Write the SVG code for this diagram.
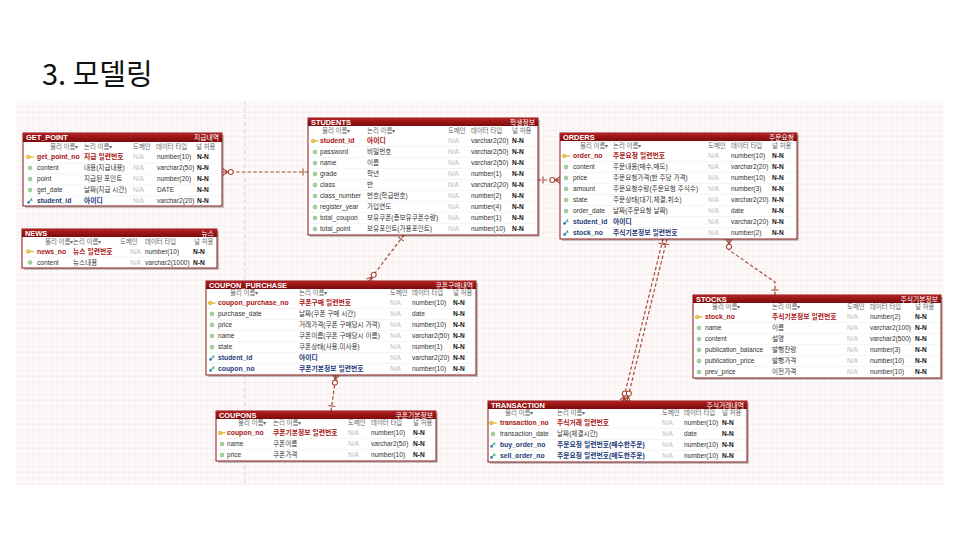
<svg xmlns="http://www.w3.org/2000/svg" xmlns:xlink="http://www.w3.org/1999/xlink" width="960" height="540" viewBox="0 0 960 540">
<style>
text{font-family:"Liberation Sans","Noto Sans CJK KR",sans-serif;}
.ttl{font-family:"Noto Sans CJK KR","Noto Sans",sans-serif;font-size:29px;fill:#111;}
.shd{fill:#000;opacity:.22;}
.box{fill:#fff;stroke:#8a1616;stroke-width:1;}
.hd{fill:url(#hg);}
.tt{font-size:7.4px;font-weight:bold;fill:#fff;}
.tr{font-size:6.8px;fill:#fff;text-anchor:end;}
.ch{font-size:6.4px;fill:#666;}
.c{font-size:6.6px;fill:#333;}
.pk{font-size:6.8px;font-weight:bold;fill:#a81414;}
.fk{font-size:6.8px;font-weight:bold;fill:#1d3a78;}
.na{font-size:6.6px;fill:#bbb;}
.nn{font-size:6.6px;font-weight:bold;fill:#111;}
.sep{stroke:#eee;stroke-width:.6;}
.rel{fill:none;stroke:#a84a36;stroke-width:1.2;stroke-dasharray:3.5 2.2;}
.mk{fill:none;stroke:#a84a36;stroke-width:1.1;stroke-dasharray:none;}
.mkc{fill:#fff;stroke:#a84a36;stroke-width:1.1;stroke-dasharray:none;}
.pb{stroke:#d8c8c8;stroke-width:.8;stroke-dasharray:4 3;}
</style>
<defs>
<pattern id="grid" width="6" height="6" patternUnits="userSpaceOnUse" x="16" y="101">
<rect width="6" height="6" fill="#fdf9f9"/>
<path d="M6 0V6M0 6H6" fill="none" stroke="#efdede" stroke-width=".6"/>
</pattern>
<linearGradient id="hg" x1="0" y1="0" x2="0" y2="1">
<stop offset="0" stop-color="#b42222"/>
<stop offset="1" stop-color="#7c0a0a"/>
</linearGradient>
<g id="ipk"><circle cx="-1.8" cy="0" r="1.8" fill="#f2cc48" stroke="#b48c14" stroke-width=".5"/><rect x="-0.4" y="-0.7" width="4" height="1.4" fill="#e2b830"/></g>
<g id="iat"><circle r="1.9" fill="#a8d6a0" stroke="#72a468" stroke-width=".5"/></g>
<g id="ifk"><circle cx="-1.4" cy="1.4" r="1.4" fill="#3d7cb4"/><path d="M-1 1 L2 -2.6 M1 -1.4 L2.4 -0.4" stroke="#3aa088" stroke-width="1.1" fill="none"/></g>
<marker id="one" markerUnits="userSpaceOnUse" markerWidth="20" markerHeight="20" refX="0" refY="10" orient="auto" overflow="visible">
<path class="mk" d="M5 6.5V13.5"/>
</marker>
<marker id="zm" markerUnits="userSpaceOnUse" markerWidth="20" markerHeight="20" refX="12" refY="10" orient="auto" overflow="visible">
<path class="mk" d="M7 10L12 6.8M7 10L12 10M7 10L12 13.2"/>
<circle class="mkc" cx="4.3" cy="10" r="2.5"/>
</marker>
</defs>
<rect width="960" height="540" fill="#fff"/>
<text class="ttl" x="42" y="85">3. 모델링</text>
<rect x="16" y="101" width="928" height="384" fill="url(#grid)"/>
<path class="pb" d="M245 101V485"/>

<g id="connectors">
<path class="rel" d="M308 172H223" marker-start="url(#one)" marker-end="url(#zm)"/>
<path class="rel" d="M538 180H560" marker-start="url(#one)" marker-end="url(#zm)"/>
<path class="rel" d="M404 235L369 281" marker-start="url(#one)" marker-end="url(#zm)"/>
<path class="rel" d="M331 411L336 375" marker-start="url(#one)" marker-end="url(#zm)"/>
<path class="rel" d="M663 239L623 401" marker-start="url(#one)" marker-end="url(#zm)"/>
<path class="rel" d="M667 239L627 401" marker-start="url(#one)" marker-end="url(#zm)"/>
<path class="rel" d="M775 295V282L729 250V239" marker-start="url(#one)" marker-end="url(#zm)"/>
</g>

<g id="get_point">
<rect class="shd" x="25" y="135" width="199" height="73"/>
<rect class="box" x="23" y="133" width="199" height="73"/>
<rect class="hd" x="23" y="133" width="199" height="9"/>
<text class="tt" x="26" y="139.8">GET_POINT</text>
<text class="tr" x="219" y="139.8">지급내역</text>
<text class="ch" x="50" y="148.8">물리 이름▾</text><text class="ch" x="84" y="148.8">논리 이름▾</text><text class="ch" x="133" y="148.8">도메인</text><text class="ch" x="156" y="148.8">데이터 타입</text><text class="ch" x="196" y="148.8">널 허용</text>
<path class="sep" d="M24 163H221M24 174H221M24 185H221M24 196H221"/>
<use href="#ipk" x="30" y="157"/><text class="pk" x="37" y="159.3">get_point_no</text><text class="pk" x="84" y="159.3">지급 일련번호</text><text class="na" x="133" y="159.3">N/A</text><text class="c" x="157" y="159.3">number(10)</text><text class="nn" x="197" y="159.3">N-N</text>
<use href="#iat" x="30" y="168"/><text class="c" x="37" y="170.3">content</text><text class="c" x="84" y="170.3">내용(지급내용)</text><text class="na" x="133" y="170.3">N/A</text><text class="c" x="157" y="170.3">varchar2(50)</text><text class="nn" x="197" y="170.3">N-N</text>
<use href="#iat" x="30" y="179"/><text class="c" x="37" y="181.3">point</text><text class="c" x="84" y="181.3">지급된 포인트</text><text class="na" x="133" y="181.3">N/A</text><text class="c" x="157" y="181.3">number(20)</text><text class="nn" x="197" y="181.3">N-N</text>
<use href="#iat" x="30" y="190"/><text class="c" x="37" y="192.3">get_date</text><text class="c" x="84" y="192.3">날짜(지급 시간)</text><text class="na" x="133" y="192.3">N/A</text><text class="c" x="157" y="192.3">DATE</text><text class="nn" x="197" y="192.3">N-N</text>
<use href="#ifk" x="30" y="201"/><text class="fk" x="37" y="203.3">student_id</text><text class="fk" x="84" y="203.3">아이디</text><text class="na" x="133" y="203.3">N/A</text><text class="c" x="157" y="203.3">varchar2(20)</text><text class="nn" x="197" y="203.3">N-N</text>
</g>

<g id="news">
<rect class="shd" x="24" y="231" width="195" height="39"/>
<rect class="box" x="22" y="229" width="195" height="39"/>
<rect class="hd" x="22" y="229" width="195" height="8"/>
<text class="tt" x="25" y="235.5">NEWS</text>
<text class="tr" x="214" y="235.5">뉴스</text>
<text class="ch" x="45" y="243.5">물리 이름▾</text><text class="ch" x="73" y="243.5">논리 이름▾</text><text class="ch" x="120" y="243.5">도메인</text><text class="ch" x="145" y="243.5">데이터 타입</text><text class="ch" x="194" y="243.5">널 허용</text>
<path class="sep" d="M23 257H216"/>
<use href="#ipk" x="30" y="251.5"/><text class="pk" x="37" y="253.8">news_no</text><text class="pk" x="73" y="253.8">뉴스 일련번호</text><text class="na" x="130" y="253.8">N/A</text><text class="c" x="145" y="253.8">number(10)</text><text class="nn" x="193" y="253.8">N-N</text>
<use href="#iat" x="30" y="262.5"/><text class="c" x="37" y="264.8">content</text><text class="c" x="73" y="264.8">뉴스내용</text><text class="na" x="130" y="264.8">N/A</text><text class="c" x="145" y="264.8">varchar2(1000)</text><text class="nn" x="193" y="264.8">N-N</text>
</g>

<g id="students">
<rect class="shd" x="310" y="120" width="230" height="117"/>
<rect class="box" x="308" y="118" width="230" height="117"/>
<rect class="hd" x="308" y="118" width="230" height="8"/>
<text class="tt" x="311" y="124.5">STUDENTS</text>
<text class="tr" x="535" y="124.5">학생정보</text>
<text class="ch" x="322" y="132.8">물리 이름▾</text><text class="ch" x="367" y="132.8">논리 이름▾</text><text class="ch" x="448" y="132.8">도메인</text><text class="ch" x="471" y="132.8">데이터 타입</text><text class="ch" x="512" y="132.8">널 허용</text>
<path class="sep" d="M309 146.5H537M309 157.5H537M309 168.5H537M309 179.5H537M309 190.5H537M309 201.5H537M309 212.5H537M309 223.5H537"/>
<use href="#ipk" x="315" y="141"/><text class="pk" x="320" y="143.3">student_id</text><text class="pk" x="367" y="143.3">아이디</text><text class="na" x="448" y="143.3">N/A</text><text class="c" x="471" y="143.3">varchar2(20)</text><text class="nn" x="512" y="143.3">N-N</text>
<use href="#iat" x="315" y="152"/><text class="c" x="320" y="154.3">password</text><text class="c" x="367" y="154.3">비밀번호</text><text class="na" x="448" y="154.3">N/A</text><text class="c" x="471" y="154.3">varchar2(50)</text><text class="nn" x="512" y="154.3">N-N</text>
<use href="#iat" x="315" y="163"/><text class="c" x="320" y="165.3">name</text><text class="c" x="367" y="165.3">이름</text><text class="na" x="448" y="165.3">N/A</text><text class="c" x="471" y="165.3">varchar2(50)</text><text class="nn" x="512" y="165.3">N-N</text>
<use href="#iat" x="315" y="174"/><text class="c" x="320" y="176.3">grade</text><text class="c" x="367" y="176.3">학년</text><text class="na" x="448" y="176.3">N/A</text><text class="c" x="471" y="176.3">number(1)</text><text class="nn" x="512" y="176.3">N-N</text>
<use href="#iat" x="315" y="185"/><text class="c" x="320" y="187.3">class</text><text class="c" x="367" y="187.3">반</text><text class="na" x="448" y="187.3">N/A</text><text class="c" x="471" y="187.3">varchar2(20)</text><text class="nn" x="512" y="187.3">N-N</text>
<use href="#iat" x="315" y="196"/><text class="c" x="320" y="198.3">class_number</text><text class="c" x="367" y="198.3">번호(학급번호)</text><text class="na" x="448" y="198.3">N/A</text><text class="c" x="471" y="198.3">number(2)</text><text class="nn" x="512" y="198.3">N-N</text>
<use href="#iat" x="315" y="207"/><text class="c" x="320" y="209.3">register_year</text><text class="c" x="367" y="209.3">가입연도</text><text class="na" x="448" y="209.3">N/A</text><text class="c" x="471" y="209.3">number(4)</text><text class="nn" x="512" y="209.3">N-N</text>
<use href="#iat" x="315" y="218"/><text class="c" x="320" y="220.3">total_coupon</text><text class="c" x="367" y="220.3">보유쿠폰(총보유쿠폰수량)</text><text class="na" x="448" y="220.3">N/A</text><text class="c" x="471" y="220.3">number(1)</text><text class="nn" x="512" y="220.3">N-N</text>
<use href="#iat" x="315" y="229"/><text class="c" x="320" y="231.3">total_point</text><text class="c" x="367" y="231.3">보유포인트(가용포인트)</text><text class="na" x="448" y="231.3">N/A</text><text class="c" x="471" y="231.3">number(10)</text><text class="nn" x="512" y="231.3">N-N</text>
</g>

<g id="orders">
<rect class="shd" x="562" y="135" width="237" height="106"/>
<rect class="box" x="560" y="133" width="237" height="106"/>
<rect class="hd" x="560" y="133" width="237" height="8"/>
<text class="tt" x="563" y="139.5">ORDERS</text>
<text class="tr" x="794" y="139.5">주문요청</text>
<text class="ch" x="580" y="147.8">물리 이름▾</text><text class="ch" x="613" y="147.8">논리 이름▾</text><text class="ch" x="708" y="147.8">도메인</text><text class="ch" x="731" y="147.8">데이터 타입</text><text class="ch" x="772" y="147.8">널 허용</text>
<path class="sep" d="M561 161.5H796M561 172.5H796M561 183.5H796M561 194.5H796M561 205.5H796M561 216.5H796M561 227.5H796"/>
<use href="#ipk" x="566" y="156"/><text class="pk" x="573" y="158.3">order_no</text><text class="pk" x="613" y="158.3">주문요청 일련번호</text><text class="na" x="708" y="158.3">N/A</text><text class="c" x="731" y="158.3">number(10)</text><text class="nn" x="772" y="158.3">N-N</text>
<use href="#iat" x="566" y="167"/><text class="c" x="573" y="169.3">content</text><text class="c" x="613" y="169.3">주문내용(매수,매도)</text><text class="na" x="708" y="169.3">N/A</text><text class="c" x="731" y="169.3">varchar2(20)</text><text class="nn" x="772" y="169.3">N-N</text>
<use href="#iat" x="566" y="178"/><text class="c" x="573" y="180.3">price</text><text class="c" x="613" y="180.3">주문요청가격(한 주당 가격)</text><text class="na" x="708" y="180.3">N/A</text><text class="c" x="731" y="180.3">number(10)</text><text class="nn" x="772" y="180.3">N-N</text>
<use href="#iat" x="566" y="189"/><text class="c" x="573" y="191.3">amount</text><text class="c" x="613" y="191.3">주문요청수량(주문요청 주식수)</text><text class="na" x="708" y="191.3">N/A</text><text class="c" x="731" y="191.3">number(3)</text><text class="nn" x="772" y="191.3">N-N</text>
<use href="#iat" x="566" y="200"/><text class="c" x="573" y="202.3">state</text><text class="c" x="613" y="202.3">주문상태(대기,체결,취소)</text><text class="na" x="708" y="202.3">N/A</text><text class="c" x="731" y="202.3">varchar2(20)</text><text class="nn" x="772" y="202.3">N-N</text>
<use href="#iat" x="566" y="211"/><text class="c" x="573" y="213.3">order_date</text><text class="c" x="613" y="213.3">날짜(주문요청 날짜)</text><text class="na" x="708" y="213.3">N/A</text><text class="c" x="731" y="213.3">date</text><text class="nn" x="772" y="213.3">N-N</text>
<use href="#ifk" x="566" y="222"/><text class="fk" x="573" y="224.3">student_id</text><text class="fk" x="613" y="224.3">아이디</text><text class="na" x="708" y="224.3">N/A</text><text class="c" x="731" y="224.3">varchar2(20)</text><text class="nn" x="772" y="224.3">N-N</text>
<use href="#ifk" x="566" y="233"/><text class="fk" x="573" y="235.3">stock_no</text><text class="fk" x="613" y="235.3">주식기본정보 일련번호</text><text class="na" x="708" y="235.3">N/A</text><text class="c" x="731" y="235.3">number(2)</text><text class="nn" x="772" y="235.3">N-N</text>
</g>

<g id="coupon_purchase">
<rect class="shd" x="208" y="283" width="270" height="94"/>
<rect class="box" x="206" y="281" width="270" height="94"/>
<rect class="hd" x="206" y="281" width="270" height="8"/>
<text class="tt" x="209" y="287.5">COUPON_PURCHASE</text>
<text class="tr" x="473" y="287.5">쿠폰구매내역</text>
<text class="ch" x="230" y="295.2">물리 이름▾</text><text class="ch" x="299" y="295.2">논리 이름▾</text><text class="ch" x="390" y="295.2">도메인</text><text class="ch" x="412" y="295.2">데이터 타입</text><text class="ch" x="453" y="295.2">널 허용</text>
<path class="sep" d="M207 308.5H475M207 319.5H475M207 330.5H475M207 341.5H475M207 352.5H475M207 363.5H475"/>
<use href="#ipk" x="212" y="303"/><text class="pk" x="218" y="305.3">coupon_purchase_no</text><text class="pk" x="299" y="305.3">쿠폰구매 일련번호</text><text class="na" x="390" y="305.3">N/A</text><text class="c" x="412" y="305.3">number(10)</text><text class="nn" x="453" y="305.3">N-N</text>
<use href="#iat" x="212" y="314"/><text class="c" x="218" y="316.3">purchase_date</text><text class="c" x="299" y="316.3">날짜(쿠폰 구매 시간)</text><text class="na" x="390" y="316.3">N/A</text><text class="c" x="412" y="316.3">date</text><text class="nn" x="453" y="316.3">N-N</text>
<use href="#iat" x="212" y="325"/><text class="c" x="218" y="327.3">price</text><text class="c" x="299" y="327.3">거래가격(쿠폰 구매당시 가격)</text><text class="na" x="390" y="327.3">N/A</text><text class="c" x="412" y="327.3">number(10)</text><text class="nn" x="453" y="327.3">N-N</text>
<use href="#iat" x="212" y="336"/><text class="c" x="218" y="338.3">name</text><text class="c" x="299" y="338.3">쿠폰이름(쿠폰 구매당시 이름)</text><text class="na" x="390" y="338.3">N/A</text><text class="c" x="412" y="338.3">varchar2(50)</text><text class="nn" x="453" y="338.3">N-N</text>
<use href="#iat" x="212" y="347"/><text class="c" x="218" y="349.3">state</text><text class="c" x="299" y="349.3">쿠폰상태(사용,미사용)</text><text class="na" x="390" y="349.3">N/A</text><text class="c" x="412" y="349.3">number(1)</text><text class="nn" x="453" y="349.3">N-N</text>
<use href="#ifk" x="212" y="358"/><text class="fk" x="218" y="360.3">student_id</text><text class="fk" x="299" y="360.3">아이디</text><text class="na" x="390" y="360.3">N/A</text><text class="c" x="412" y="360.3">varchar2(20)</text><text class="nn" x="453" y="360.3">N-N</text>
<use href="#ifk" x="212" y="369"/><text class="fk" x="218" y="371.3">coupon_no</text><text class="fk" x="299" y="371.3">쿠폰기본정보 일련번호</text><text class="na" x="390" y="371.3">N/A</text><text class="c" x="412" y="371.3">number(10)</text><text class="nn" x="453" y="371.3">N-N</text>
</g>

<g id="stocks">
<rect class="shd" x="695" y="297" width="248" height="83"/>
<rect class="box" x="693" y="295" width="248" height="83"/>
<rect class="hd" x="693" y="295" width="248" height="8"/>
<text class="tt" x="696" y="301.5">STOCKS</text>
<text class="tr" x="938" y="301.5">주식기본정보</text>
<text class="ch" x="712" y="309.2">물리 이름▾</text><text class="ch" x="772" y="309.2">논리 이름▾</text><text class="ch" x="847" y="309.2">도메인</text><text class="ch" x="870" y="309.2">데이터 타입</text><text class="ch" x="915" y="309.2">널 허용</text>
<path class="sep" d="M694 322.5H940M694 333.5H940M694 344.5H940M694 355.5H940M694 366.5H940"/>
<use href="#ipk" x="699" y="317"/><text class="pk" x="705" y="319.3">stock_no</text><text class="pk" x="772" y="319.3">주식기본정보 일련번호</text><text class="na" x="847" y="319.3">N/A</text><text class="c" x="870" y="319.3">number(2)</text><text class="nn" x="915" y="319.3">N-N</text>
<use href="#iat" x="699" y="328"/><text class="c" x="705" y="330.3">name</text><text class="c" x="772" y="330.3">이름</text><text class="na" x="847" y="330.3">N/A</text><text class="c" x="870" y="330.3">varchar2(100)</text><text class="nn" x="915" y="330.3">N-N</text>
<use href="#iat" x="699" y="339"/><text class="c" x="705" y="341.3">content</text><text class="c" x="772" y="341.3">설명</text><text class="na" x="847" y="341.3">N/A</text><text class="c" x="870" y="341.3">varchar2(500)</text><text class="nn" x="915" y="341.3">N-N</text>
<use href="#iat" x="699" y="350"/><text class="c" x="705" y="352.3">publication_balance</text><text class="c" x="772" y="352.3">발행잔량</text><text class="na" x="847" y="352.3">N/A</text><text class="c" x="870" y="352.3">number(3)</text><text class="nn" x="915" y="352.3">N-N</text>
<use href="#iat" x="699" y="361"/><text class="c" x="705" y="363.3">publication_price</text><text class="c" x="772" y="363.3">발행가격</text><text class="na" x="847" y="363.3">N/A</text><text class="c" x="870" y="363.3">number(10)</text><text class="nn" x="915" y="363.3">N-N</text>
<use href="#iat" x="699" y="372"/><text class="c" x="705" y="374.3">prev_price</text><text class="c" x="772" y="374.3">이전가격</text><text class="na" x="847" y="374.3">N/A</text><text class="c" x="870" y="374.3">number(10)</text><text class="nn" x="915" y="374.3">N-N</text>
</g>

<g id="coupons">
<rect class="shd" x="218" y="413" width="220" height="50"/>
<rect class="box" x="216" y="411" width="220" height="50"/>
<rect class="hd" x="216" y="411" width="220" height="8"/>
<text class="tt" x="219" y="417.5">COUPONS</text>
<text class="tr" x="433" y="417.5">쿠폰기본정보</text>
<text class="ch" x="238" y="425.2">물리 이름▾</text><text class="ch" x="273" y="425.2">논리 이름▾</text><text class="ch" x="348" y="425.2">도메인</text><text class="ch" x="371" y="425.2">데이터 타입</text><text class="ch" x="413" y="425.2">널 허용</text>
<path class="sep" d="M217 438.5H435M217 449.5H435"/>
<use href="#ipk" x="222" y="433"/><text class="pk" x="227" y="435.3">coupon_no</text><text class="pk" x="273" y="435.3">쿠폰기본정보 일련번호</text><text class="na" x="348" y="435.3">N/A</text><text class="c" x="371" y="435.3">number(10)</text><text class="nn" x="413" y="435.3">N-N</text>
<use href="#iat" x="222" y="444"/><text class="c" x="227" y="446.3">name</text><text class="c" x="273" y="446.3">쿠폰이름</text><text class="na" x="348" y="446.3">N/A</text><text class="c" x="371" y="446.3">varchar2(50)</text><text class="nn" x="413" y="446.3">N-N</text>
<use href="#iat" x="222" y="455"/><text class="c" x="227" y="457.3">price</text><text class="c" x="273" y="457.3">쿠폰가격</text><text class="na" x="348" y="457.3">N/A</text><text class="c" x="371" y="457.3">number(10)</text><text class="nn" x="413" y="457.3">N-N</text>
</g>

<g id="transaction">
<rect class="shd" x="490" y="403" width="259" height="61"/>
<rect class="box" x="488" y="401" width="259" height="61"/>
<rect class="hd" x="488" y="401" width="259" height="8"/>
<text class="tt" x="491" y="407.5">TRANSACTION</text>
<text class="tr" x="744" y="407.5">주식거래내역</text>
<text class="ch" x="505" y="415.2">물리 이름▾</text><text class="ch" x="557" y="415.2">논리 이름▾</text><text class="ch" x="662" y="415.2">도메인</text><text class="ch" x="684" y="415.2">데이터 타입</text><text class="ch" x="722" y="415.2">널 허용</text>
<path class="sep" d="M489 428.5H746M489 439.5H746M489 450.5H746"/>
<use href="#ipk" x="493" y="423"/><text class="pk" x="500" y="425.3">transaction_no</text><text class="pk" x="557" y="425.3">주식거래 일련번호</text><text class="na" x="662" y="425.3">N/A</text><text class="c" x="684" y="425.3">number(10)</text><text class="nn" x="722" y="425.3">N-N</text>
<use href="#iat" x="493" y="434"/><text class="c" x="500" y="436.3">transaction_date</text><text class="c" x="557" y="436.3">날짜(체결시간)</text><text class="na" x="662" y="436.3">N/A</text><text class="c" x="684" y="436.3">date</text><text class="nn" x="722" y="436.3">N-N</text>
<use href="#ifk" x="493" y="445"/><text class="fk" x="500" y="447.3">buy_order_no</text><text class="fk" x="557" y="447.3">주문요청 일련번호(매수한주문)</text><text class="na" x="662" y="447.3">N/A</text><text class="c" x="684" y="447.3">number(10)</text><text class="nn" x="722" y="447.3">N-N</text>
<use href="#ifk" x="493" y="456"/><text class="fk" x="500" y="458.3">sell_order_no</text><text class="fk" x="557" y="458.3">주문요청 일련번호(매도한주문)</text><text class="na" x="662" y="458.3">N/A</text><text class="c" x="684" y="458.3">number(10)</text><text class="nn" x="722" y="458.3">N-N</text>
</g>
</svg>
